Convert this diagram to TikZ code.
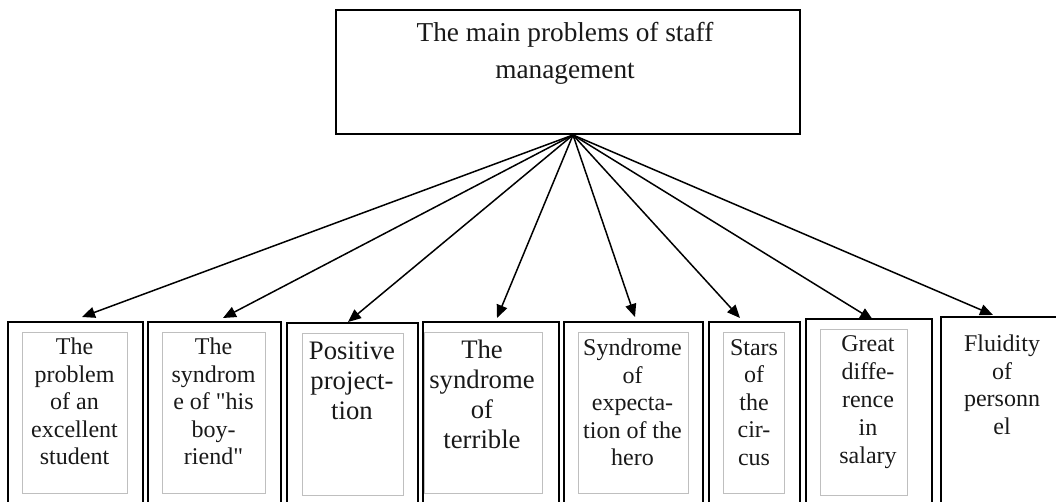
\documentclass[tikz,border=0pt]{standalone}
\usepackage{fontspec}
\setmainfont{Liberation Serif}[Ligatures=TeXOff]
\usetikzlibrary{arrows.meta}
\tikzset{
  obox/.style={draw, line width=2pt, rectangle, inner sep=0pt, minimum height=200},
  ibox/.style={draw=black!25, line width=0.8pt},
  lbl/.style={anchor=north, inner sep=0pt, align=center, text=black!90},
  small/.style={font=\fontsize{24}{27.5}\selectfont},
  big/.style={font=\fontsize{26.7}{30}\selectfont},
  conn/.style={line width=1.5pt, -{Triangle[length=13pt,width=11pt]}},
}
\begin{document}
\begin{tikzpicture}[x=1pt,y=-1pt]
\useasboundingbox (0,0) rectangle (1056,502);
% top box
\node[draw, line width=2pt, minimum width=464, minimum height=124, inner sep=0pt] (top) at (568,72) {};
\node[lbl, font=\fontsize{27.3}{37}\selectfont] (toptxt) at (565,22) {The main problems of staff\\management};
% outer boxes
\node[obox, minimum width=135] (b1) at (75.5,422) {};
\node[obox, minimum width=133] (b2) at (214.5,422) {};
\node[obox, minimum width=131, minimum height=198] (b3) at (352.5,422) {};
\node[obox, minimum width=136] (b4) at (491,422) {};
\node[obox, minimum width=139] (b5) at (633.5,422) {};
\node[obox, minimum width=91] (b6) at (754.5,422) {};
\node[obox, minimum width=126, minimum height=206] (b7) at (869,422) {};
\node[obox, minimum width=130, minimum height=210] (b8) at (1006,422) {};
% inner frames
\draw[ibox] (22,332) rectangle (127,493);
\draw[ibox] (162,332) rectangle (265,493);
\draw[ibox] (302,333) rectangle (403,495);
\draw[ibox] (424,332) rectangle (542,493);
\draw[ibox] (578,332) rectangle (688,493);
\draw[ibox] (723,332) rectangle (784,493);
\draw[ibox] (820,329) rectangle (907,495);
% labels
\node[lbl, small] (l1) at (74.5,338) {The\\problem\\of an\\excellent\\student};
\node[lbl, small] (l2) at (213.5,338) {The\\syndrom\\e of "his\\boy-\\riend"};
\node[lbl, big] (l3) at (352,342) {Positive\\project-\\tion};
\node[lbl, big] (l4) at (482,340) {The\\syndrome\\of\\terrible};
\node[lbl, small] (l5) at (632.5,339) {Syndrome\\of\\expecta-\\tion of the\\hero};
\node[lbl, small] (l6) at (754,339) {Stars\\of\\the\\cir-\\cus};
\node[lbl, font=\fontsize{24}{28}\selectfont] (l7) at (868,335) {Great\\diffe-\\rence\\in\\salary};
\node[lbl, font=\fontsize{24}{27.5}\selectfont] (l8) at (1002,335) {Fluidity\\of\\personn\\el};
% connectors
\coordinate (hub) at ([xshift=5pt]top.south);
\coordinate (t1) at (82,317);
\coordinate (t2) at (223,318);
\coordinate (t3) at (348,322);
\coordinate (t4) at (497,318);
\coordinate (t5) at (635,317);
\coordinate (t6) at (740,318);
\coordinate (t7) at (873,320);
\coordinate (t8) at (993,315);
\foreach \t in {t1,t2,t3,t4,t5,t6,t7,t8}
  \draw[conn] (hub) -- (\t);
\end{tikzpicture}
\end{document}
